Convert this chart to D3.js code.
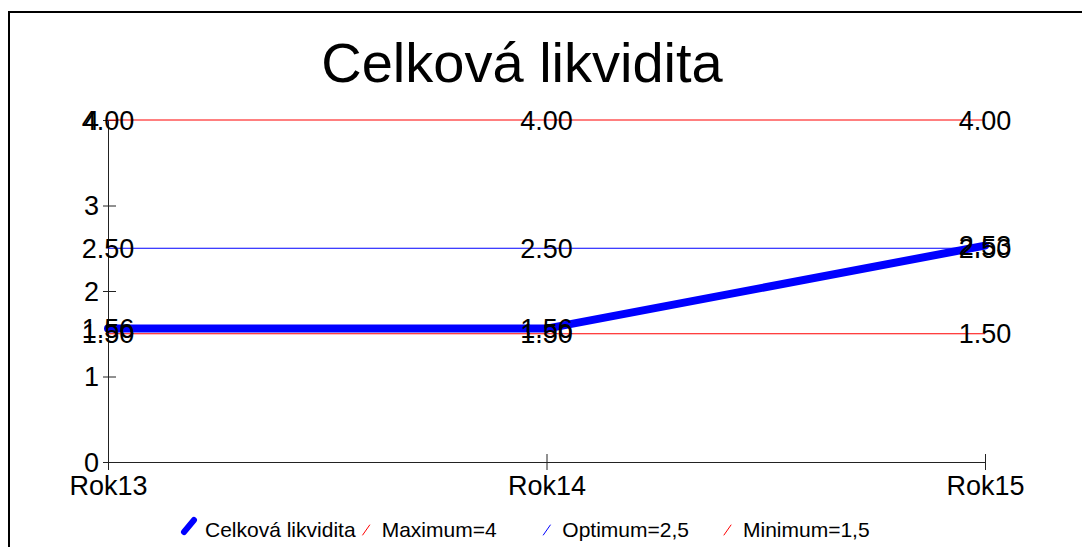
<!DOCTYPE html>
<html>
<head>
<meta charset="utf-8">
<script src="https://cdn.jsdelivr.net/npm/d3@7"></script>
<style>
  html, body { margin: 0; padding: 0; background: #fff; }
  svg { display: block; font-family: "Liberation Sans", Arial, sans-serif; }
</style>
</head>
<body>
<svg id="chart" width="1082" height="547"></svg>
<script>
// chart data
// ----------
var categories = ["Rok13", "Rok14", "Rok15"];
var likvidita  = [1.56, 1.56, 2.53];
var maximum    = [4, 4, 4];
var optimum    = [2.5, 2.5, 2.5];
var minimum    = [1.5, 1.5, 1.5];
var yTicks     = [0, 1, 2, 3, 4];
var legendNames = ["Celková likvidita", "Maximum=4", "Optimum=2,5", "Minimum=1,5"];

var series = [
	{ name: legendNames[1], values: maximum,   color: "#ff0000", width: 1 },
	{ name: legendNames[2], values: optimum,   color: "#0000ff", width: 1 },
	{ name: legendNames[3], values: minimum,   color: "#ff0000", width: 1 },
	{ name: legendNames[0], values: likvidita, color: "#0000ff", width: 8 }
];

var svg = d3.select("#chart");

// frame
// -----
svg.append("rect")
	.attr("x", 9).attr("y", 12)
	.attr("width", 1100).attr("height", 600)
	.attr("style", "fill:none;stroke:#000;stroke-width:2;");

// title
// -----
svg.append("text")
	.attr("x", 522).attr("y", 82)
	.attr("text-anchor", "middle")
	.attr("style", "font-size:56px;fill:#000;")
	.text("Celková likvidita");

// scales
// ------
var x = d3.scalePoint().domain(categories).range([108, 985]);
var y = d3.scaleLinear().domain([0, 4]).range([462, 120]);

// axes
// ----
var gy = svg.append("g").attr("transform", "translate(108,0)")
	.call(d3.axisLeft(y).tickValues(yTicks).tickFormat(d3.format("d")).tickSizeOuter(0));
gy.select(".domain").attr("stroke", "#222");
gy.selectAll(".tick line").attr("x1", 8).attr("x2", -5).attr("stroke", "#222");
gy.selectAll(".tick text").attr("x", -9).attr("dy", "0.35em")
	.attr("style", "font-size:27px;fill:#000;font-family:'Liberation Sans',Arial,sans-serif;");

var gx = svg.append("g").attr("transform", "translate(0,462)")
	.call(d3.axisBottom(x).tickSizeOuter(0));
gx.select(".domain").attr("stroke", "#222");
gx.selectAll(".tick line").attr("y1", -8).attr("y2", 8).attr("stroke", "#222");
gx.selectAll(".tick text").attr("y", 33).attr("dy", 0)
	.attr("style", "font-size:27px;fill:#000;font-family:'Liberation Sans',Arial,sans-serif;");

// lines
// -----
var line = d3.line()
	.x(function(d, i){ return x(categories[i]); })
	.y(function(d){ return y(d); });

series.forEach(function(s){
	svg.append("path")
		.datum(s.values)
		.attr("d", line)
		.attr("style", "fill:none;stroke:" + s.color + ";stroke-width:" + s.width + ";stroke-linecap:" + (s.width > 1 ? "round" : "butt") + ";stroke-linejoin:round;");
});

// value labels
// ------------
series.forEach(function(s){
	svg.append("g").selectAll("text")
		.data(s.values)
		.join("text")
		.attr("x", function(d, i){ return x(categories[i]); })
		.attr("y", function(d){ return y(d); })
		.attr("dy", "0.36em")
		.attr("text-anchor", "middle")
		.attr("style", "font-size:27px;fill:#000;")
		.text(function(d){ return d3.format(".2f")(d); });
});

// legend
// ------
var legendItems = [series[3], series[0], series[1], series[2]];
var lx = d3.scalePoint().domain(legendNames).range([180, 722]);

var lg = svg.append("g").selectAll("g")
	.data(legendItems)
	.join("g")
	.attr("transform", function(d){ return "translate(" + lx(d.name) + ",537)"; });

lg.append("line")
	.attr("x1", function(d){ return d.width > 1 ? 4 : 2; })
	.attr("y1", function(d){ return d.width > 1 ? -5 : -2; })
	.attr("x2", function(d){ return d.width > 1 ? 14 : 9; })
	.attr("y2", function(d){ return d.width > 1 ? -17 : -12; })
	.attr("style", function(d){
		return "stroke:" + d.color + ";stroke-width:" + (d.width > 1 ? 6 : 1) + ";stroke-linecap:round;";
	});

lg.append("text")
	.attr("x", function(d){ return d.width > 1 ? 25 : 21; })
	.attr("y", 0)
	.attr("style", "font-size:21px;fill:#000;")
	.text(function(d){ return d.name; });
</script>
</body>
</html>
